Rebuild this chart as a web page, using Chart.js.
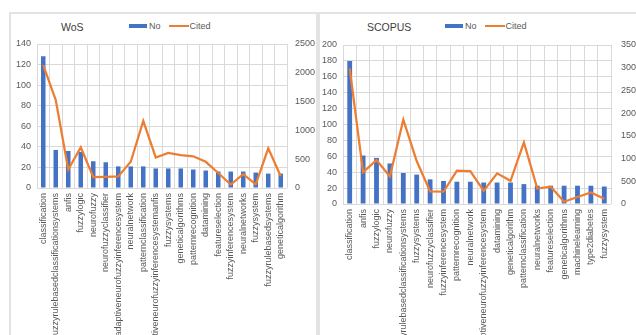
<!DOCTYPE html>
<html lang="en">
<head>
    <meta charset="UTF-8">
    <title>Keyword statistics</title>
    <script src="https://cdn.jsdelivr.net/npm/chart.js"></script>
    <style>
        html, body { margin: 0; padding: 0; background: #fff; overflow: hidden; width: 636px; height: 335px; }
        body { position: relative; font-family: "Liberation Sans Narrow", "Liberation Sans", sans-serif; color: #595959; }
        .box { position: absolute; border: 2px solid #e3e3e3; border-bottom: none; }
        .title { position: absolute; font-size: 10.5px; color: #404040; }
        .legend { position: absolute; font-size: 9px; display: flex; align-items: center; height: 10px; }
        .swatch-bar { display: inline-block; width: 18px; height: 4px; background: #4472C4; margin-right: 2px; }
        .swatch-line { display: inline-block; width: 20px; height: 2px; background: #ED7D31; margin: 0 1px 0 8px; }
        canvas { position: absolute; }
    </style>
</head>
<body>
    <div class="box" style="left:9px; top:12px; width:307px; height:330px;"></div>
    <div class="box" style="left:316px; top:12px; width:340px; height:330px;"></div>

    <div class="title" style="left:61px; top:21px;">WoS</div>
    <div class="legend" style="left:129px; top:21px;"><span class="swatch-bar"></span>No<span class="swatch-line"></span>Cited</div>
    <canvas id="wosChart" width="306" height="321" style="left:11px; top:14px;"></canvas>

    <div class="title" style="left:367px; top:21px;">SCOPUS</div>
    <div class="legend" style="left:445px; top:21px;"><span class="swatch-bar"></span>No<span class="swatch-line"></span>Cited</div>
    <canvas id="scopusChart" width="330" height="321" style="left:319px; top:14px;"></canvas>

    <script>
        // WoS keywords
        const wosCategories = [
            'classification', 'fuzzyrulebasedclassificationsystems', 'anfis', 'fuzzylogic', 'neurofuzzy',
            'neurofuzzyclassifier', 'adaptiveneurofuzzyinferencesystem', 'neuralnetwork', 'patternclassification',
            'adaptiveneurofuzzyinferencesystemanfis', 'fuzzysystems', 'geneticalgorithms', 'patternrecognition',
            'datamining', 'featureselection', 'fuzzyinferencesystem', 'neuralnetworks', 'fuzzysystem',
            'fuzzyrulebasedsystems', 'geneticalgorithm'
        ];
        const wosNo = [128, 37, 36, 35, 26, 25, 21, 21, 21, 19, 19, 19, 18, 17, 16, 16, 16, 15, 14, 14];
        const wosCited = [2135, 1525, 320, 705, 190, 195, 200, 455, 1165, 530, 610, 570, 550, 455, 260, 60, 240, 65, 690, 205];

        // SCOPUS keywords
        const scopusCategories = [
            'classification', 'anfis', 'fuzzylogic', 'neurofuzzy', 'fuzzyrulebasedclassificationsystems',
            'fuzzysystems', 'neurofuzzyclassifier', 'fuzzyinferencesystem', 'patternrecognition', 'neuralnetwork',
            'adaptiveneurofuzzyinferencesystem', 'datamining', 'geneticalgorithm', 'patternclassification',
            'neuralnetworks', 'featureselection', 'geneticalgorithms', 'machinelearning', 'type2diabetes', 'fuzzysystem'
        ];
        const scopusNo = [180, 61, 58, 51, 39, 37, 31, 29, 28, 28, 27, 27, 27, 25, 23, 23, 23, 23, 23, 22];
        const scopusCited = [2985, 700, 965, 605, 1855, 945, 275, 270, 735, 725, 290, 675, 510, 1355, 340, 380, 50, 155, 255, 115];

        const fontFamily = '"Liberation Sans Narrow", "Liberation Sans", sans-serif';
        const gridColor = '#d9d9d9';
        const textColor = '#595959';

        // plain numbers on the axes, no thousands separator
        const plainNumber = function (value) { return String(value); };

        // build one combo chart: bars on the left axis, citations line on the right axis
        function makeChart(id, labels, noData, citedData, cfg) {
            return new Chart(document.getElementById(id), {
                type: 'bar',
                data: {
                    labels: labels,
                    datasets: [
                        {
                            type: 'line',
                            label: 'Cited',
                            data: citedData,
                            yAxisID: 'y1',
                            borderColor: '#ED7D31',
                            backgroundColor: '#ED7D31',
                            borderWidth: 2.25,
                            pointRadius: 0,
                            tension: 0,
                            order: 0
                        },
                        {
                            label: 'No',
                            data: noData,
                            yAxisID: 'y',
                            backgroundColor: '#4472C4',
                            barPercentage: 0.36,
                            categoryPercentage: 1,
                            order: 1
                        }
                    ]
                },
                options: {
                    responsive: false,
                    animation: false,
                    layout: { padding: { top: cfg.top, left: 0, right: 0, bottom: 0 } },
                    plugins: { legend: { display: false }, tooltip: { enabled: false } },
                    scales: {
                        x: {
                            grid: { color: gridColor, drawTicks: false, offset: true },
                            border: { display: false },
                            ticks: {
                                autoSkip: false, maxRotation: 90, minRotation: 90, padding: 5,
                                color: textColor, font: { family: fontFamily, size: 9 }
                            },
                            afterFit: function (s) { s.height = cfg.xHeight; }
                        },
                        y: {
                            position: 'left',
                            min: 0, max: cfg.leftMax,
                            grid: { color: gridColor, drawTicks: false },
                            border: { display: false },
                            ticks: { stepSize: 20, padding: 6, color: textColor, font: { family: fontFamily, size: 9 }, callback: plainNumber },
                            afterFit: function (s) { s.width = cfg.leftWidth; }
                        },
                        y1: {
                            position: 'right',
                            min: 0, max: cfg.rightMax,
                            grid: { drawOnChartArea: false, drawTicks: false },
                            border: { display: false },
                            ticks: { stepSize: 500, padding: cfg.rightPad, color: textColor, font: { family: fontFamily, size: 9 }, callback: plainNumber },
                            afterFit: function (s) { s.width = cfg.rightWidth; }
                        }
                    }
                }
            });
        }

        makeChart('wosChart', wosCategories, wosNo, wosCited,
            { top: 30, xHeight: 147, leftWidth: 26, rightWidth: 30, leftMax: 140, rightMax: 2500, rightPad: 8 });

        makeChart('scopusChart', scopusCategories, scopusNo, scopusCited,
            { top: 31, xHeight: 131, leftWidth: 24, rightWidth: 38, leftMax: 200, rightMax: 3500, rightPad: 10 });
    </script>
</body>
</html>
